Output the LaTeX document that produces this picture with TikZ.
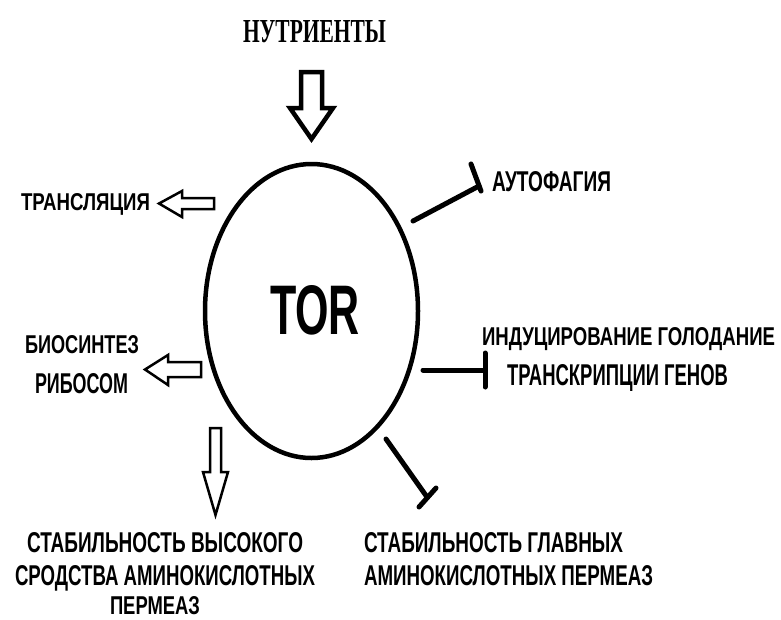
\documentclass[tikz,border=0pt]{standalone}
\usepackage{fontspec}
\setmainfont{Liberation Sans}
\newfontfamily\serifb{Liberation Serif}
\usetikzlibrary{shapes.geometric}
\newcommand\fitt[3]{\resizebox{#1pt}{#2pt}{\bfseries #3}}
\tikzset{
  lbl/.style={anchor=base west, inner sep=0pt, outer sep=0pt},
  blk/.style={draw=black, fill=white, line width=2.5pt, line join=miter},
  blkthick/.style={blk, line width=4.5pt},
  inhib/.style={draw=black, line width=5pt, line cap=round},
}
\begin{document}
\begin{tikzpicture}[x=1pt,y=-1pt]
\useasboundingbox[fill=white] (0,0) rectangle (781,619);

% central TOR ellipse
\node[draw, ellipse, line width=4.5pt, minimum width=213pt, minimum height=294pt, inner sep=0pt] (tor) at (311.5,311) {};
\node[lbl] (torlabel) at (270,334) {\fitt{90}{49}{TOR}};

% nutrients
\node[lbl] (nutr) at (243,42) {\resizebox{143pt}{22pt}{\serifb\bfseries НУТРИЕНТЫ}};
\draw[blkthick] (301,72) -- (322,72) -- (322,108) -- (333,108) -- (311.5,139) -- (290,108) -- (301,108) -- cycle;

% translation
\node[lbl] (transl) at (21,210) {\fitt{129}{17}{ТРАНСЛЯЦИЯ}};
\draw[blk] (214,198) -- (182,198) -- (182,191) -- (159,203.5) -- (182,217) -- (182,209) -- (214,209) -- cycle;

% ribosome biosynthesis
\node[lbl] (bio1) at (25,353) {\fitt{114}{18}{БИОСИНТЕЗ}};
\node[lbl] (bio2) at (35,393) {\fitt{93}{20}{РИБОСОМ}};
\draw[blk] (201,362) -- (168,362) -- (168,355) -- (145,369.5) -- (168,385) -- (168,377) -- (201,377) -- cycle;

% high-affinity permeases
\draw[blk] (210,428) -- (221,428) -- (221,472) -- (228,472) -- (215.5,515) -- (203,472) -- (210,472) -- cycle;
\node[lbl] (hi1) at (27,552) {\fitt{276}{20}{СТАБИЛЬНОСТЬ ВЫСОКОГО}};
\node[lbl] (hi2) at (15,585) {\fitt{300}{20}{СРОДСТВА АМИНОКИСЛОТНЫХ}};
\node[lbl] (hi3) at (110,614) {\fitt{90}{18}{ПЕРМЕАЗ}};

% autophagy
\coordinate (a1) at (413,221);
\coordinate (a2) at (479,186);
\coordinate (a3) at (471,164);
\coordinate (a4) at (481,191);
\draw[inhib] (a1) -- (a2);
\draw[inhib] (a3) -- (a4);
\node[lbl] (auto) at (492,191) {\fitt{119}{20}{АУТОФАГИЯ}};

% starvation gene induction
\coordinate (i1) at (423,370);
\coordinate (i2) at (484,370);
\coordinate (i3) at (485,353);
\coordinate (i4) at (485,387);
\draw[inhib] (i1) -- (i2);
\draw[inhib] (i3) -- (i4);
\node[lbl] (ind1) at (482,345) {\fitt{293}{18}{ИНДУЦИРОВАНИЕ ГОЛОДАНИЕ}};
\node[lbl] (ind2) at (507,385) {\fitt{221}{21}{ТРАНСКРИПЦИИ ГЕНОВ}};

% general permeases
\coordinate (g1) at (386,439);
\coordinate (g2) at (427,497);
\coordinate (g3) at (419,507);
\coordinate (g4) at (436,488);
\draw[inhib] (g1) -- (g2);
\draw[inhib] (g3) -- (g4);
\node[lbl] (gen1) at (364,552) {\fitt{259}{20}{СТАБИЛЬНОСТЬ ГЛАВНЫХ}};
\node[lbl] (gen2) at (364,585) {\fitt{289}{20}{АМИНОКИСЛОТНЫХ ПЕРМЕАЗ}};
\end{tikzpicture}
\end{document}
